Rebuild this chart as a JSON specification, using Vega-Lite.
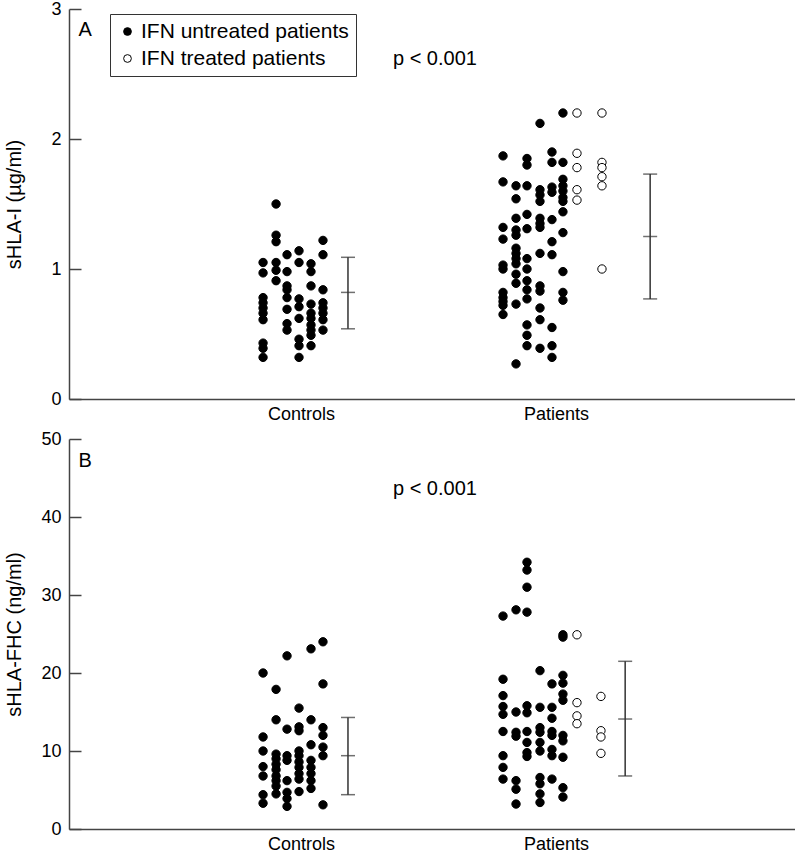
{
  "$schema": "https://vega.github.io/schema/vega-lite/v6.json",
  "padding": {"left": 4, "top": 0, "right": 0, "bottom": 0},
  "spacing": 7,
  "config": {
    "font": "Liberation Sans",
    "view": {"stroke": null},
    "axis": {
      "grid": false, "domainColor": "#444", "domainWidth": 1.5, "tickColor": "#444", "tickWidth": 1.5,
      "labelFontSize": 18, "labelColor": "black", "titleFontSize": 20, "titleFontWeight": "normal", "titleColor": "black"
    }
  },
  "datasets": {
    "pts": [
      {"panel":"A","x":-0.149,"v":1.05,"s":"IFN untreated patients"},{"panel":"A","x":-0.149,"v":0.97,"s":"IFN untreated patients"},{"panel":"A","x":-0.149,"v":0.78,"s":"IFN untreated patients"},{"panel":"A","x":-0.149,"v":0.74,"s":"IFN untreated patients"},{"panel":"A","x":-0.149,"v":0.70,"s":"IFN untreated patients"},{"panel":"A","x":-0.149,"v":0.66,"s":"IFN untreated patients"},{"panel":"A","x":-0.149,"v":0.61,"s":"IFN untreated patients"},{"panel":"A","x":-0.149,"v":0.43,"s":"IFN untreated patients"},{"panel":"A","x":-0.149,"v":0.39,"s":"IFN untreated patients"},{"panel":"A","x":-0.149,"v":0.32,"s":"IFN untreated patients"},
      {"panel":"A","x":-0.098,"v":1.50,"s":"IFN untreated patients"},{"panel":"A","x":-0.098,"v":1.26,"s":"IFN untreated patients"},{"panel":"A","x":-0.098,"v":1.21,"s":"IFN untreated patients"},{"panel":"A","x":-0.098,"v":1.05,"s":"IFN untreated patients"},{"panel":"A","x":-0.098,"v":0.99,"s":"IFN untreated patients"},{"panel":"A","x":-0.098,"v":0.91,"s":"IFN untreated patients"},
      {"panel":"A","x":-0.055,"v":1.11,"s":"IFN untreated patients"},{"panel":"A","x":-0.055,"v":0.98,"s":"IFN untreated patients"},{"panel":"A","x":-0.055,"v":0.87,"s":"IFN untreated patients"},{"panel":"A","x":-0.055,"v":0.84,"s":"IFN untreated patients"},{"panel":"A","x":-0.055,"v":0.78,"s":"IFN untreated patients"},{"panel":"A","x":-0.055,"v":0.69,"s":"IFN untreated patients"},{"panel":"A","x":-0.055,"v":0.58,"s":"IFN untreated patients"},{"panel":"A","x":-0.055,"v":0.53,"s":"IFN untreated patients"},
      {"panel":"A","x":-0.008,"v":1.14,"s":"IFN untreated patients"},{"panel":"A","x":-0.008,"v":1.05,"s":"IFN untreated patients"},{"panel":"A","x":-0.008,"v":0.77,"s":"IFN untreated patients"},{"panel":"A","x":-0.008,"v":0.71,"s":"IFN untreated patients"},{"panel":"A","x":-0.008,"v":0.62,"s":"IFN untreated patients"},{"panel":"A","x":-0.008,"v":0.46,"s":"IFN untreated patients"},{"panel":"A","x":-0.008,"v":0.41,"s":"IFN untreated patients"},{"panel":"A","x":-0.008,"v":0.32,"s":"IFN untreated patients"},
      {"panel":"A","x":0.039,"v":1.04,"s":"IFN untreated patients"},{"panel":"A","x":0.039,"v":0.98,"s":"IFN untreated patients"},{"panel":"A","x":0.039,"v":0.87,"s":"IFN untreated patients"},{"panel":"A","x":0.039,"v":0.73,"s":"IFN untreated patients"},{"panel":"A","x":0.039,"v":0.66,"s":"IFN untreated patients"},{"panel":"A","x":0.039,"v":0.62,"s":"IFN untreated patients"},{"panel":"A","x":0.039,"v":0.57,"s":"IFN untreated patients"},{"panel":"A","x":0.039,"v":0.53,"s":"IFN untreated patients"},{"panel":"A","x":0.039,"v":0.49,"s":"IFN untreated patients"},{"panel":"A","x":0.039,"v":0.41,"s":"IFN untreated patients"},
      {"panel":"A","x":0.086,"v":1.22,"s":"IFN untreated patients"},{"panel":"A","x":0.086,"v":1.11,"s":"IFN untreated patients"},{"panel":"A","x":0.086,"v":0.84,"s":"IFN untreated patients"},{"panel":"A","x":0.086,"v":0.74,"s":"IFN untreated patients"},{"panel":"A","x":0.086,"v":0.70,"s":"IFN untreated patients"},{"panel":"A","x":0.086,"v":0.66,"s":"IFN untreated patients"},{"panel":"A","x":0.086,"v":0.61,"s":"IFN untreated patients"},{"panel":"A","x":0.086,"v":0.53,"s":"IFN untreated patients"},
      {"panel":"A","x":0.792,"v":1.87,"s":"IFN untreated patients"},{"panel":"A","x":0.792,"v":1.67,"s":"IFN untreated patients"},{"panel":"A","x":0.792,"v":1.32,"s":"IFN untreated patients"},{"panel":"A","x":0.792,"v":1.23,"s":"IFN untreated patients"},{"panel":"A","x":0.792,"v":1.03,"s":"IFN untreated patients"},{"panel":"A","x":0.792,"v":1.00,"s":"IFN untreated patients"},{"panel":"A","x":0.792,"v":0.82,"s":"IFN untreated patients"},{"panel":"A","x":0.792,"v":0.78,"s":"IFN untreated patients"},{"panel":"A","x":0.792,"v":0.75,"s":"IFN untreated patients"},{"panel":"A","x":0.792,"v":0.72,"s":"IFN untreated patients"},{"panel":"A","x":0.792,"v":0.65,"s":"IFN untreated patients"},
      {"panel":"A","x":0.843,"v":1.64,"s":"IFN untreated patients"},{"panel":"A","x":0.843,"v":1.54,"s":"IFN untreated patients"},{"panel":"A","x":0.843,"v":1.39,"s":"IFN untreated patients"},{"panel":"A","x":0.843,"v":1.30,"s":"IFN untreated patients"},{"panel":"A","x":0.843,"v":1.26,"s":"IFN untreated patients"},{"panel":"A","x":0.843,"v":1.16,"s":"IFN untreated patients"},{"panel":"A","x":0.843,"v":1.12,"s":"IFN untreated patients"},{"panel":"A","x":0.843,"v":1.08,"s":"IFN untreated patients"},{"panel":"A","x":0.843,"v":1.04,"s":"IFN untreated patients"},{"panel":"A","x":0.843,"v":0.96,"s":"IFN untreated patients"},{"panel":"A","x":0.843,"v":0.89,"s":"IFN untreated patients"},{"panel":"A","x":0.843,"v":0.73,"s":"IFN untreated patients"},{"panel":"A","x":0.843,"v":0.27,"s":"IFN untreated patients"},
      {"panel":"A","x":0.886,"v":1.85,"s":"IFN untreated patients"},{"panel":"A","x":0.886,"v":1.80,"s":"IFN untreated patients"},{"panel":"A","x":0.886,"v":1.64,"s":"IFN untreated patients"},{"panel":"A","x":0.886,"v":1.42,"s":"IFN untreated patients"},{"panel":"A","x":0.886,"v":1.31,"s":"IFN untreated patients"},{"panel":"A","x":0.886,"v":1.08,"s":"IFN untreated patients"},{"panel":"A","x":0.886,"v":1.00,"s":"IFN untreated patients"},{"panel":"A","x":0.886,"v":0.91,"s":"IFN untreated patients"},{"panel":"A","x":0.886,"v":0.84,"s":"IFN untreated patients"},{"panel":"A","x":0.886,"v":0.77,"s":"IFN untreated patients"},{"panel":"A","x":0.886,"v":0.57,"s":"IFN untreated patients"},{"panel":"A","x":0.886,"v":0.49,"s":"IFN untreated patients"},{"panel":"A","x":0.886,"v":0.41,"s":"IFN untreated patients"},
      {"panel":"A","x":0.937,"v":2.12,"s":"IFN untreated patients"},{"panel":"A","x":0.937,"v":1.61,"s":"IFN untreated patients"},{"panel":"A","x":0.937,"v":1.57,"s":"IFN untreated patients"},{"panel":"A","x":0.937,"v":1.52,"s":"IFN untreated patients"},{"panel":"A","x":0.937,"v":1.39,"s":"IFN untreated patients"},{"panel":"A","x":0.937,"v":1.35,"s":"IFN untreated patients"},{"panel":"A","x":0.937,"v":1.32,"s":"IFN untreated patients"},{"panel":"A","x":0.937,"v":1.12,"s":"IFN untreated patients"},{"panel":"A","x":0.937,"v":0.87,"s":"IFN untreated patients"},{"panel":"A","x":0.937,"v":0.83,"s":"IFN untreated patients"},{"panel":"A","x":0.937,"v":0.70,"s":"IFN untreated patients"},{"panel":"A","x":0.937,"v":0.61,"s":"IFN untreated patients"},{"panel":"A","x":0.937,"v":0.39,"s":"IFN untreated patients"},
      {"panel":"A","x":0.984,"v":1.90,"s":"IFN untreated patients"},{"panel":"A","x":0.984,"v":1.82,"s":"IFN untreated patients"},{"panel":"A","x":0.984,"v":1.63,"s":"IFN untreated patients"},{"panel":"A","x":0.984,"v":1.59,"s":"IFN untreated patients"},{"panel":"A","x":0.984,"v":1.38,"s":"IFN untreated patients"},{"panel":"A","x":0.984,"v":1.21,"s":"IFN untreated patients"},{"panel":"A","x":0.984,"v":1.11,"s":"IFN untreated patients"},{"panel":"A","x":0.984,"v":0.55,"s":"IFN untreated patients"},{"panel":"A","x":0.984,"v":0.41,"s":"IFN untreated patients"},{"panel":"A","x":0.984,"v":0.32,"s":"IFN untreated patients"},
      {"panel":"A","x":1.027,"v":2.20,"s":"IFN untreated patients"},{"panel":"A","x":1.027,"v":1.82,"s":"IFN untreated patients"},{"panel":"A","x":1.027,"v":1.69,"s":"IFN untreated patients"},{"panel":"A","x":1.027,"v":1.64,"s":"IFN untreated patients"},{"panel":"A","x":1.027,"v":1.60,"s":"IFN untreated patients"},{"panel":"A","x":1.027,"v":1.55,"s":"IFN untreated patients"},{"panel":"A","x":1.027,"v":1.52,"s":"IFN untreated patients"},{"panel":"A","x":1.027,"v":1.44,"s":"IFN untreated patients"},{"panel":"A","x":1.027,"v":1.28,"s":"IFN untreated patients"},{"panel":"A","x":1.027,"v":0.98,"s":"IFN untreated patients"},{"panel":"A","x":1.027,"v":0.82,"s":"IFN untreated patients"},{"panel":"A","x":1.027,"v":0.76,"s":"IFN untreated patients"},
      {"panel":"A","x":1.082,"v":2.20,"s":"IFN treated patients"},{"panel":"A","x":1.082,"v":1.89,"s":"IFN treated patients"},{"panel":"A","x":1.082,"v":1.78,"s":"IFN treated patients"},{"panel":"A","x":1.082,"v":1.61,"s":"IFN treated patients"},{"panel":"A","x":1.082,"v":1.53,"s":"IFN treated patients"},
      {"panel":"A","x":1.180,"v":2.20,"s":"IFN treated patients"},{"panel":"A","x":1.180,"v":1.82,"s":"IFN treated patients"},{"panel":"A","x":1.180,"v":1.78,"s":"IFN treated patients"},{"panel":"A","x":1.180,"v":1.71,"s":"IFN treated patients"},{"panel":"A","x":1.180,"v":1.64,"s":"IFN treated patients"},{"panel":"A","x":1.180,"v":1.00,"s":"IFN treated patients"},

      {"panel":"B","x":-0.149,"v":20.0,"s":"IFN untreated patients"},{"panel":"B","x":-0.149,"v":11.8,"s":"IFN untreated patients"},{"panel":"B","x":-0.149,"v":10.0,"s":"IFN untreated patients"},{"panel":"B","x":-0.149,"v":8.0,"s":"IFN untreated patients"},{"panel":"B","x":-0.149,"v":6.8,"s":"IFN untreated patients"},{"panel":"B","x":-0.149,"v":4.4,"s":"IFN untreated patients"},{"panel":"B","x":-0.149,"v":3.3,"s":"IFN untreated patients"},
      {"panel":"B","x":-0.098,"v":17.9,"s":"IFN untreated patients"},{"panel":"B","x":-0.098,"v":14.0,"s":"IFN untreated patients"},{"panel":"B","x":-0.098,"v":9.6,"s":"IFN untreated patients"},{"panel":"B","x":-0.098,"v":9.0,"s":"IFN untreated patients"},{"panel":"B","x":-0.098,"v":8.3,"s":"IFN untreated patients"},{"panel":"B","x":-0.098,"v":7.6,"s":"IFN untreated patients"},{"panel":"B","x":-0.098,"v":6.8,"s":"IFN untreated patients"},{"panel":"B","x":-0.098,"v":6.2,"s":"IFN untreated patients"},{"panel":"B","x":-0.098,"v":5.5,"s":"IFN untreated patients"},{"panel":"B","x":-0.098,"v":4.5,"s":"IFN untreated patients"},
      {"panel":"B","x":-0.055,"v":22.2,"s":"IFN untreated patients"},{"panel":"B","x":-0.055,"v":12.8,"s":"IFN untreated patients"},{"panel":"B","x":-0.055,"v":9.4,"s":"IFN untreated patients"},{"panel":"B","x":-0.055,"v":8.8,"s":"IFN untreated patients"},{"panel":"B","x":-0.055,"v":6.2,"s":"IFN untreated patients"},{"panel":"B","x":-0.055,"v":4.7,"s":"IFN untreated patients"},{"panel":"B","x":-0.055,"v":3.9,"s":"IFN untreated patients"},{"panel":"B","x":-0.055,"v":2.9,"s":"IFN untreated patients"},
      {"panel":"B","x":-0.008,"v":15.5,"s":"IFN untreated patients"},{"panel":"B","x":-0.008,"v":13.1,"s":"IFN untreated patients"},{"panel":"B","x":-0.008,"v":12.6,"s":"IFN untreated patients"},{"panel":"B","x":-0.008,"v":10.0,"s":"IFN untreated patients"},{"panel":"B","x":-0.008,"v":9.4,"s":"IFN untreated patients"},{"panel":"B","x":-0.008,"v":8.6,"s":"IFN untreated patients"},{"panel":"B","x":-0.008,"v":7.9,"s":"IFN untreated patients"},{"panel":"B","x":-0.008,"v":7.1,"s":"IFN untreated patients"},{"panel":"B","x":-0.008,"v":6.4,"s":"IFN untreated patients"},{"panel":"B","x":-0.008,"v":4.8,"s":"IFN untreated patients"},
      {"panel":"B","x":0.039,"v":23.1,"s":"IFN untreated patients"},{"panel":"B","x":0.039,"v":14.0,"s":"IFN untreated patients"},{"panel":"B","x":0.039,"v":10.8,"s":"IFN untreated patients"},{"panel":"B","x":0.039,"v":8.8,"s":"IFN untreated patients"},{"panel":"B","x":0.039,"v":7.9,"s":"IFN untreated patients"},{"panel":"B","x":0.039,"v":7.1,"s":"IFN untreated patients"},{"panel":"B","x":0.039,"v":6.2,"s":"IFN untreated patients"},{"panel":"B","x":0.039,"v":5.2,"s":"IFN untreated patients"},
      {"panel":"B","x":0.086,"v":24.0,"s":"IFN untreated patients"},{"panel":"B","x":0.086,"v":18.6,"s":"IFN untreated patients"},{"panel":"B","x":0.086,"v":13.0,"s":"IFN untreated patients"},{"panel":"B","x":0.086,"v":12.0,"s":"IFN untreated patients"},{"panel":"B","x":0.086,"v":10.5,"s":"IFN untreated patients"},{"panel":"B","x":0.086,"v":9.4,"s":"IFN untreated patients"},{"panel":"B","x":0.086,"v":3.1,"s":"IFN untreated patients"},
      {"panel":"B","x":0.792,"v":27.3,"s":"IFN untreated patients"},{"panel":"B","x":0.792,"v":19.2,"s":"IFN untreated patients"},{"panel":"B","x":0.792,"v":17.1,"s":"IFN untreated patients"},{"panel":"B","x":0.792,"v":15.7,"s":"IFN untreated patients"},{"panel":"B","x":0.792,"v":14.7,"s":"IFN untreated patients"},{"panel":"B","x":0.792,"v":12.5,"s":"IFN untreated patients"},{"panel":"B","x":0.792,"v":9.4,"s":"IFN untreated patients"},{"panel":"B","x":0.792,"v":7.9,"s":"IFN untreated patients"},{"panel":"B","x":0.792,"v":6.4,"s":"IFN untreated patients"},
      {"panel":"B","x":0.843,"v":28.1,"s":"IFN untreated patients"},{"panel":"B","x":0.843,"v":15.0,"s":"IFN untreated patients"},{"panel":"B","x":0.843,"v":12.4,"s":"IFN untreated patients"},{"panel":"B","x":0.843,"v":11.9,"s":"IFN untreated patients"},{"panel":"B","x":0.843,"v":6.2,"s":"IFN untreated patients"},{"panel":"B","x":0.843,"v":5.1,"s":"IFN untreated patients"},{"panel":"B","x":0.843,"v":3.2,"s":"IFN untreated patients"},
      {"panel":"B","x":0.886,"v":34.2,"s":"IFN untreated patients"},{"panel":"B","x":0.886,"v":33.2,"s":"IFN untreated patients"},{"panel":"B","x":0.886,"v":31.0,"s":"IFN untreated patients"},{"panel":"B","x":0.886,"v":27.8,"s":"IFN untreated patients"},{"panel":"B","x":0.886,"v":15.8,"s":"IFN untreated patients"},{"panel":"B","x":0.886,"v":14.9,"s":"IFN untreated patients"},{"panel":"B","x":0.886,"v":12.5,"s":"IFN untreated patients"},{"panel":"B","x":0.886,"v":11.1,"s":"IFN untreated patients"},{"panel":"B","x":0.886,"v":9.8,"s":"IFN untreated patients"},{"panel":"B","x":0.886,"v":9.3,"s":"IFN untreated patients"},
      {"panel":"B","x":0.937,"v":20.3,"s":"IFN untreated patients"},{"panel":"B","x":0.937,"v":15.6,"s":"IFN untreated patients"},{"panel":"B","x":0.937,"v":13.0,"s":"IFN untreated patients"},{"panel":"B","x":0.937,"v":12.4,"s":"IFN untreated patients"},{"panel":"B","x":0.937,"v":11.1,"s":"IFN untreated patients"},{"panel":"B","x":0.937,"v":10.0,"s":"IFN untreated patients"},{"panel":"B","x":0.937,"v":6.6,"s":"IFN untreated patients"},{"panel":"B","x":0.937,"v":5.8,"s":"IFN untreated patients"},{"panel":"B","x":0.937,"v":4.5,"s":"IFN untreated patients"},{"panel":"B","x":0.937,"v":3.4,"s":"IFN untreated patients"},
      {"panel":"B","x":0.984,"v":18.6,"s":"IFN untreated patients"},{"panel":"B","x":0.984,"v":15.6,"s":"IFN untreated patients"},{"panel":"B","x":0.984,"v":14.2,"s":"IFN untreated patients"},{"panel":"B","x":0.984,"v":12.5,"s":"IFN untreated patients"},{"panel":"B","x":0.984,"v":12.0,"s":"IFN untreated patients"},{"panel":"B","x":0.984,"v":10.2,"s":"IFN untreated patients"},{"panel":"B","x":0.984,"v":9.4,"s":"IFN untreated patients"},{"panel":"B","x":0.984,"v":6.4,"s":"IFN untreated patients"},
      {"panel":"B","x":1.027,"v":24.9,"s":"IFN untreated patients"},{"panel":"B","x":1.027,"v":24.6,"s":"IFN untreated patients"},{"panel":"B","x":1.027,"v":19.7,"s":"IFN untreated patients"},{"panel":"B","x":1.027,"v":18.7,"s":"IFN untreated patients"},{"panel":"B","x":1.027,"v":17.3,"s":"IFN untreated patients"},{"panel":"B","x":1.027,"v":16.5,"s":"IFN untreated patients"},{"panel":"B","x":1.027,"v":12.0,"s":"IFN untreated patients"},{"panel":"B","x":1.027,"v":11.3,"s":"IFN untreated patients"},{"panel":"B","x":1.027,"v":9.2,"s":"IFN untreated patients"},{"panel":"B","x":1.027,"v":5.3,"s":"IFN untreated patients"},{"panel":"B","x":1.027,"v":4.1,"s":"IFN untreated patients"},
      {"panel":"B","x":1.082,"v":24.9,"s":"IFN treated patients"},{"panel":"B","x":1.082,"v":16.2,"s":"IFN treated patients"},{"panel":"B","x":1.082,"v":14.5,"s":"IFN treated patients"},{"panel":"B","x":1.082,"v":13.5,"s":"IFN treated patients"},
      {"panel":"B","x":1.176,"v":17.0,"s":"IFN treated patients"},{"panel":"B","x":1.176,"v":12.6,"s":"IFN treated patients"},{"panel":"B","x":1.176,"v":11.8,"s":"IFN treated patients"},{"panel":"B","x":1.176,"v":9.7,"s":"IFN treated patients"}
    ],
    "bars": [
      {"panel":"A","x":0.184,"mean":0.82,"lo":0.54,"hi":1.09},
      {"panel":"A","x":1.369,"mean":1.25,"lo":0.77,"hi":1.73},
      {"panel":"B","x":0.184,"mean":9.4,"lo":4.4,"hi":14.3},
      {"panel":"B","x":1.271,"mean":14.1,"lo":6.8,"hi":21.5}
    ],
    "notes": [
      {"panel":"A","x":-0.847,"y":2.835,"label":"A"},
      {"panel":"A","x":0.525,"y":2.615,"label":"p < 0.001"},
      {"panel":"B","x":-0.847,"y":47.2,"label":"B"},
      {"panel":"B","x":0.525,"y":43.6,"label":"p < 0.001"}
    ]
  },
  "resolve": {"scale": {"fill": "independent"}, "legend": {"fill": "independent"}},
  "vconcat": [
    {
      "width": 726, "height": 390,
      "layer": [
        {
          "data": {"name": "pts"},
          "transform": [{"filter": "datum.panel == 'A'"}],
          "mark": {"type": "point", "shape": "circle", "filled": false, "size": 70, "stroke": "black", "strokeWidth": 1, "opacity": 1},
          "encoding": {
            "x": {"field": "x", "type": "quantitative", "scale": {"domain": [-0.91, 1.937], "nice": false, "zero": false},
              "axis": {"title": null, "values": [0, 1], "labelExpr": "datum.value == 0 ? 'Controls' : 'Patients'", "ticks": false, "labelPadding": 6}},
            "y": {"field": "v", "type": "quantitative", "scale": {"domain": [0, 3], "nice": false},
              "axis": {"title": "sHLA-I (µg/ml)", "values": [0, 1, 2, 3], "format": "d", "tickSize": -12, "labelPadding": 20,
                "titleAngle": 270, "titleBaseline": "bottom", "titleAlign": "center", "titleX": -45, "titleY": 195}},
            "fill": {"field": "s", "type": "nominal",
              "scale": {"domain": ["IFN untreated patients", "IFN treated patients"], "range": ["black", "white"]},
              "legend": {"title": null, "orient": "none", "legendX": 41, "legendY": 5, "strokeColor": "#333", "fillColor": "white",
                "padding": 7, "labelFontSize": 21, "labelColor": "black", "labelLimit": 400, "symbolSize": 60, "symbolType": "circle",
                "symbolStrokeColor": "black", "symbolStrokeWidth": 1, "rowPadding": 5, "labelOffset": 3,
                "labelExpr": "datum.label + '   '"}}
          }
        },
        {
          "data": {"name": "bars"},
          "transform": [{"filter": "datum.panel == 'A'"}],
          "mark": {"type": "rule", "color": "#333", "strokeWidth": 1.5},
          "encoding": {"x": {"field": "x", "type": "quantitative"}, "y": {"field": "lo", "type": "quantitative"}, "y2": {"field": "hi"}}
        },
        {
          "data": {"name": "bars"},
          "transform": [{"filter": "datum.panel == 'A'"}, {"fold": ["lo", "hi", "mean"], "as": ["k", "val"]}],
          "mark": {"type": "tick", "orient": "horizontal", "color": "#333", "size": 14, "thickness": 1.5},
          "encoding": {"x": {"field": "x", "type": "quantitative"}, "y": {"field": "val", "type": "quantitative"}}
        },
        {
          "data": {"name": "notes"},
          "transform": [{"filter": "datum.panel == 'A'"}],
          "mark": {"type": "text", "fontSize": 20, "align": "center", "baseline": "middle", "color": "black"},
          "encoding": {"x": {"field": "x", "type": "quantitative"}, "y": {"field": "y", "type": "quantitative"}, "text": {"field": "label"}}
        }
      ]
    },
    {
      "width": 726, "height": 390,
      "layer": [
        {
          "data": {"name": "pts"},
          "transform": [{"filter": "datum.panel == 'B'"}],
          "mark": {"type": "point", "shape": "circle", "filled": false, "size": 70, "stroke": "black", "strokeWidth": 1, "opacity": 1},
          "encoding": {
            "x": {"field": "x", "type": "quantitative", "scale": {"domain": [-0.91, 1.937], "nice": false, "zero": false},
              "axis": {"title": null, "values": [0, 1], "labelExpr": "datum.value == 0 ? 'Controls' : 'Patients'", "ticks": false, "labelPadding": 6}},
            "y": {"field": "v", "type": "quantitative", "scale": {"domain": [0, 50], "nice": false},
              "axis": {"title": "sHLA-FHC (ng/ml)", "values": [0, 10, 20, 30, 40, 50], "format": "d", "tickSize": -12, "labelPadding": 20,
                "titleAngle": 270, "titleBaseline": "bottom", "titleAlign": "center", "titleX": -45, "titleY": 195}},
            "fill": {"field": "s", "type": "nominal",
              "scale": {"domain": ["IFN untreated patients", "IFN treated patients"], "range": ["black", "white"]},
              "legend": null}
          }
        },
        {
          "data": {"name": "bars"},
          "transform": [{"filter": "datum.panel == 'B'"}],
          "mark": {"type": "rule", "color": "#333", "strokeWidth": 1.5},
          "encoding": {"x": {"field": "x", "type": "quantitative"}, "y": {"field": "lo", "type": "quantitative"}, "y2": {"field": "hi"}}
        },
        {
          "data": {"name": "bars"},
          "transform": [{"filter": "datum.panel == 'B'"}, {"fold": ["lo", "hi", "mean"], "as": ["k", "val"]}],
          "mark": {"type": "tick", "orient": "horizontal", "color": "#333", "size": 14, "thickness": 1.5},
          "encoding": {"x": {"field": "x", "type": "quantitative"}, "y": {"field": "val", "type": "quantitative"}}
        },
        {
          "data": {"name": "notes"},
          "transform": [{"filter": "datum.panel == 'B'"}],
          "mark": {"type": "text", "fontSize": 20, "align": "center", "baseline": "middle", "color": "black"},
          "encoding": {"x": {"field": "x", "type": "quantitative"}, "y": {"field": "y", "type": "quantitative"}, "text": {"field": "label"}}
        }
      ]
    }
  ]
}
